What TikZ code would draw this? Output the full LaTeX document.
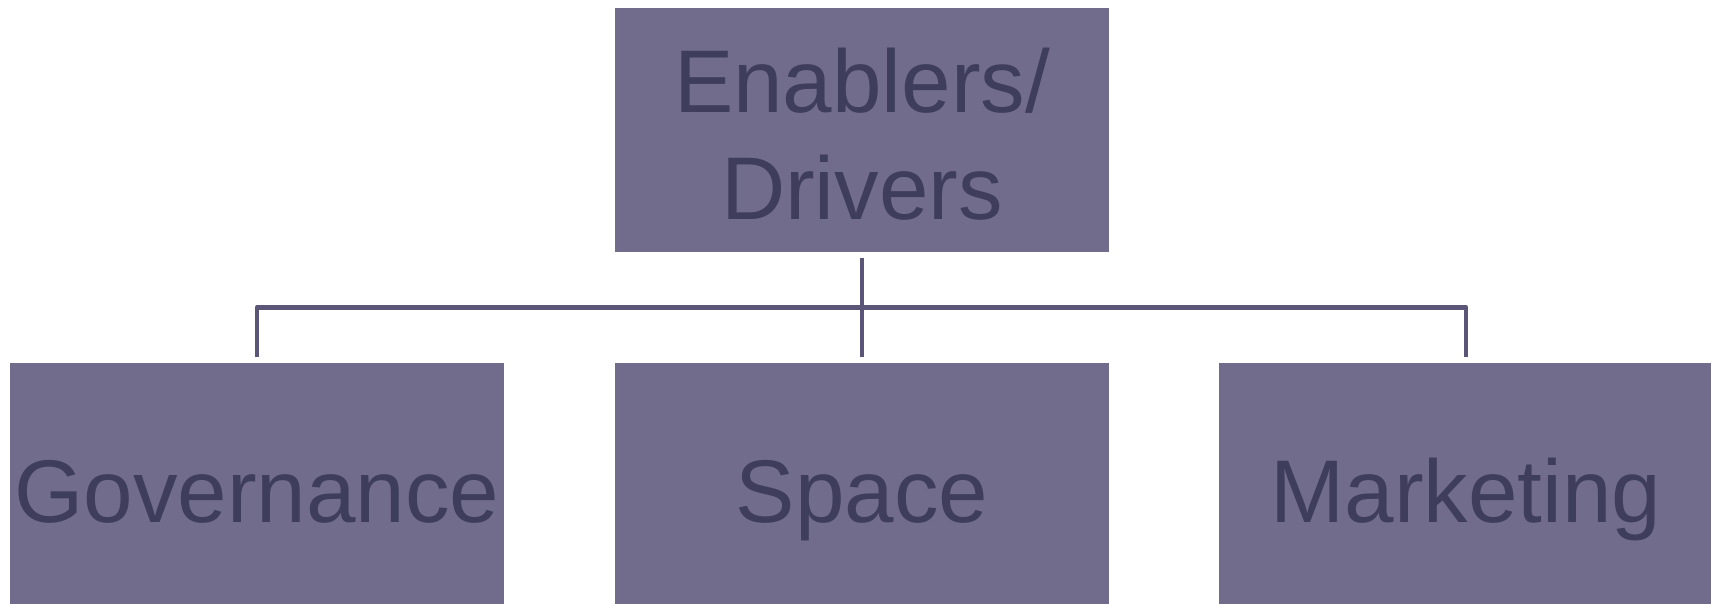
\documentclass[tikz,border=0pt]{standalone}
\usepackage{fontspec}
\setmainfont{Liberation Sans}
\definecolor{boxfill}{HTML}{726C8C}
\definecolor{boxtext}{HTML}{3F3D5C}
\definecolor{linkcol}{HTML}{5B5677}
\tikzset{
  orgbox/.style={rectangle, fill=boxfill, draw=none, inner sep=0pt,
    minimum width=494pt, minimum height=244pt},
  boxlabel/.style={text=boxtext, inner sep=0pt, align=center,
    font=\fontsize{89pt}{107pt}\selectfont},
  link/.style={draw=linkcol, line width=4.5pt, line join=round}
}
\begin{document}
\begin{tikzpicture}[x=1pt,y=1pt]
\useasboundingbox (0,0) rectangle (1711,603);
% boxes
\node[orgbox] (top) at (862,473) {};
\node[orgbox] (gov) at (257,117.5) {};
\node[orgbox] (spc) at (862,117.5) {};
\node[orgbox] (mkt) at (1466,117.5) {};
% labels
\node[boxlabel, anchor=base] (topA) at ([yshift=17pt]top.center) {Enablers/};
\node[boxlabel, anchor=base] (topB) at ([yshift=-90pt]top.center) {Drivers};
\node[boxlabel, anchor=base] (govL) at ([yshift=-36.5pt]gov.center) {Governance};
\node[boxlabel, anchor=base] (spcL) at ([yshift=-36.5pt]spc.center) {Space};
\node[boxlabel, anchor=base] (mktL) at ([yshift=-36.5pt]mkt.center) {Marketing};
% connectors
\coordinate (stubT) at ([yshift=-6pt]top.south);
\coordinate (stubS) at ([yshift=6pt]spc.north);
\coordinate (stubG) at ([yshift=6pt]gov.north);
\coordinate (stubM) at ([yshift=6pt]mkt.north);
\draw[link] (stubT) -- (stubS);
\draw[link] (stubG) -- ++(0,50) -| (stubM);
\end{tikzpicture}
\end{document}
